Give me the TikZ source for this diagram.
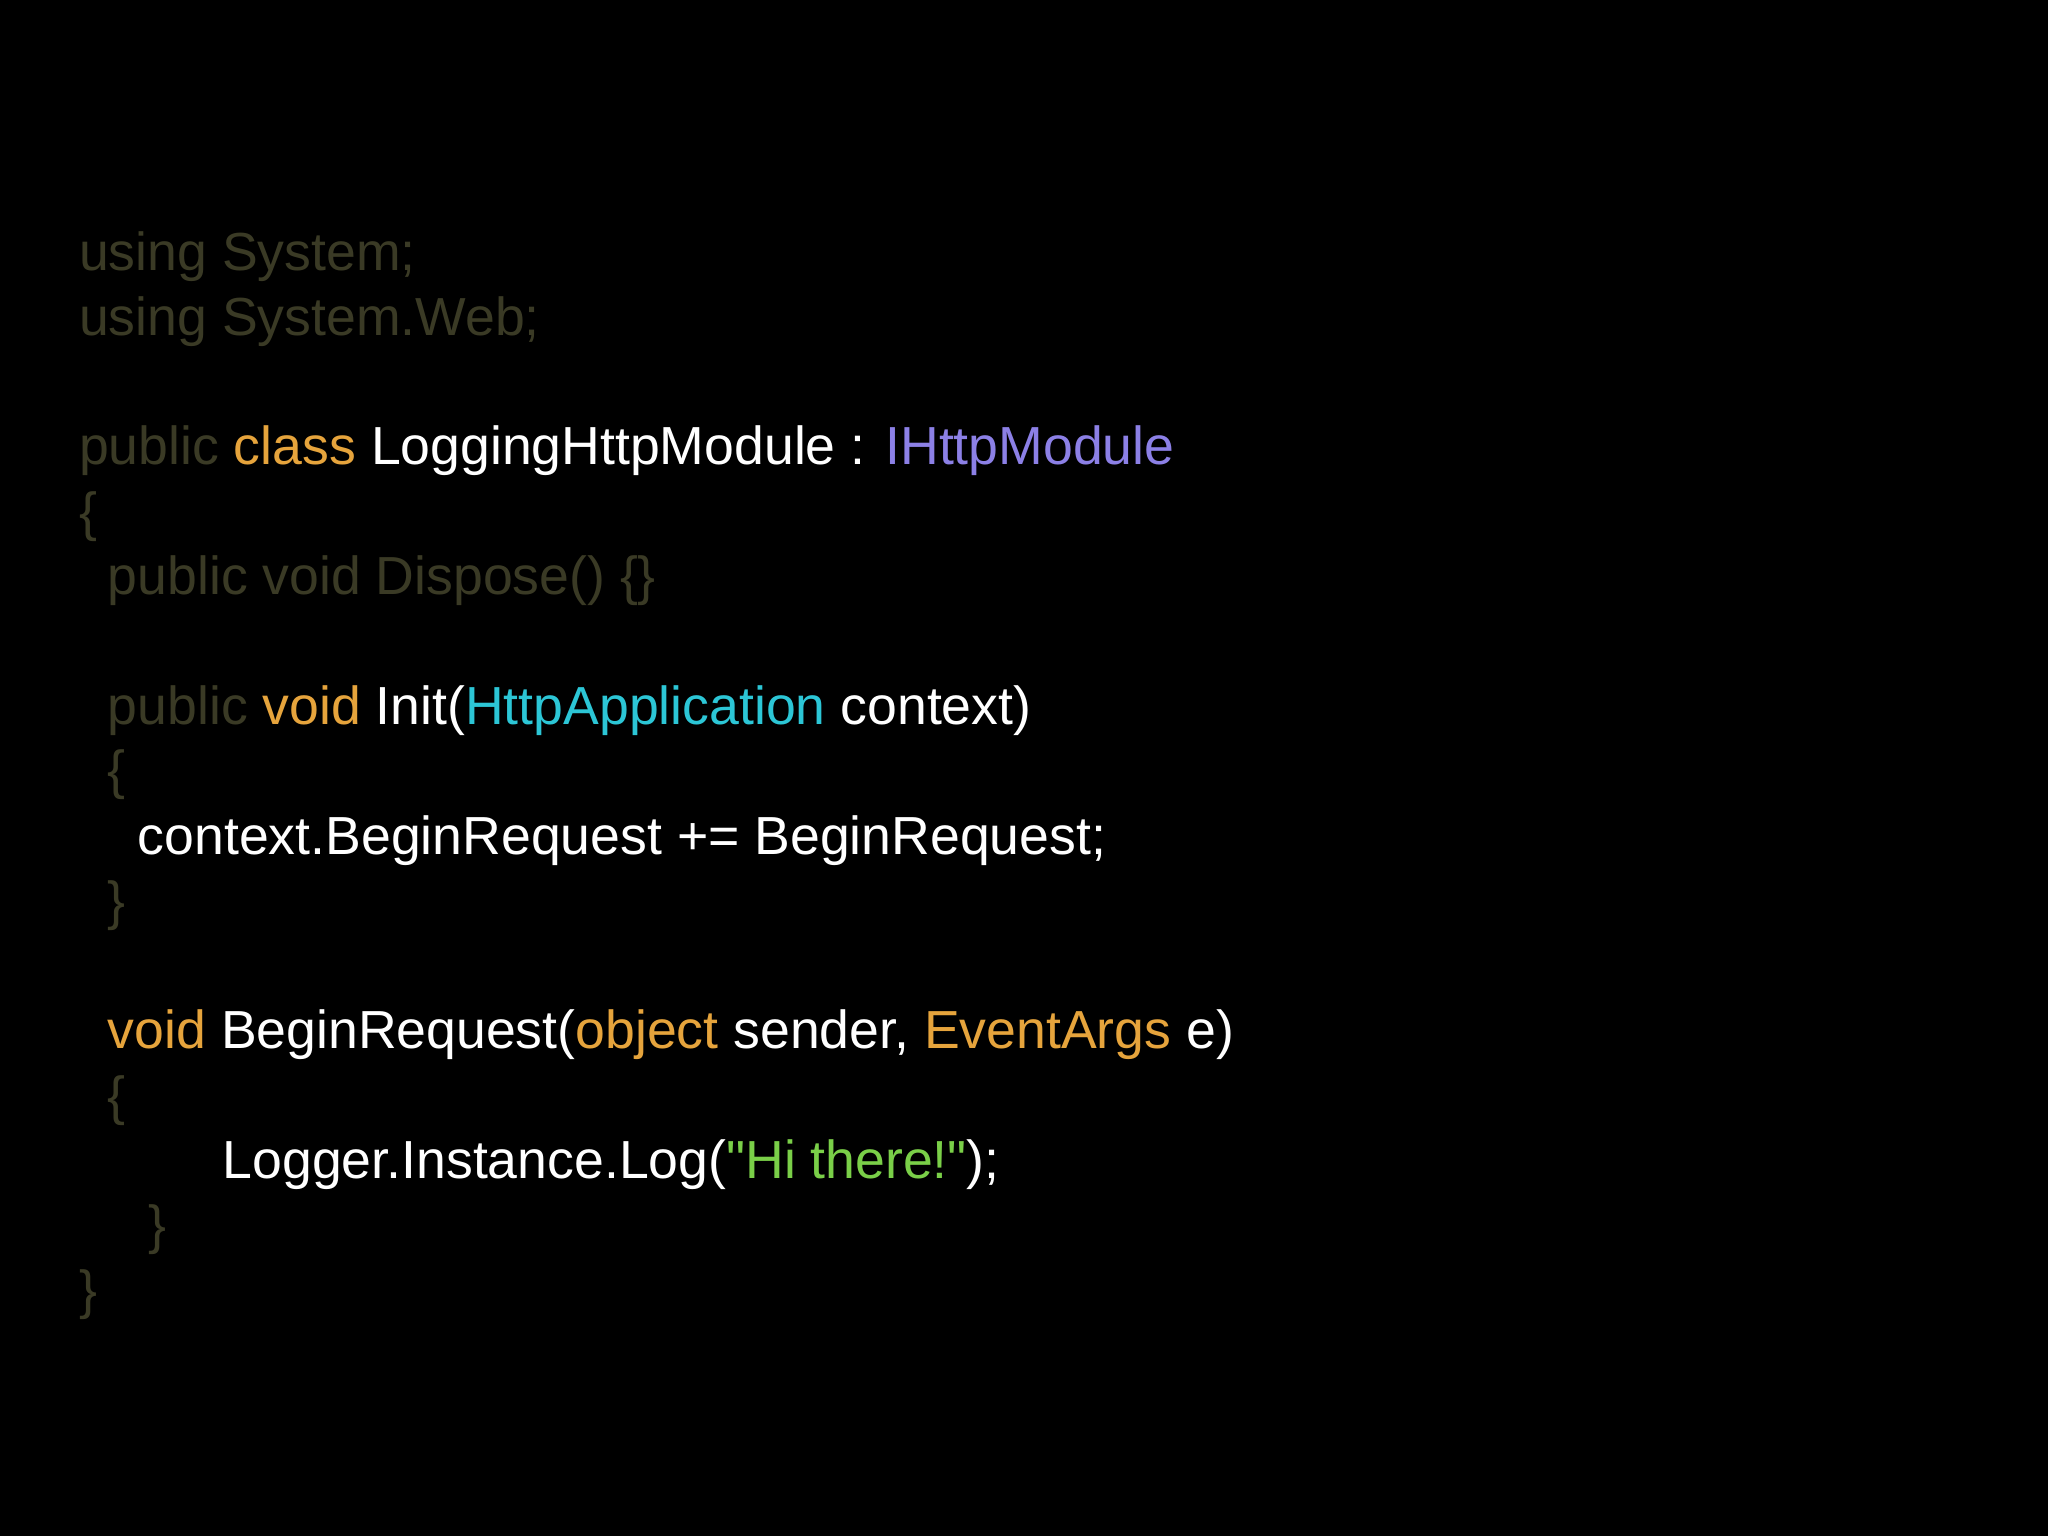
\documentclass[tikz,border=0pt]{standalone}
\usepackage{fontspec}
\setmainfont{Liberation Sans}
\newfontfamily\plainfont{Liberation Sans}
\newcommand{\sq}{{\plainfont\symbol{34}}}
\definecolor{dim}{HTML}{3A3A25}
\definecolor{kw}{HTML}{E6A43C}
\definecolor{iface}{HTML}{8C80E6}
\definecolor{typ}{HTML}{2CC6D6}
\definecolor{str}{HTML}{7ACF48}
\begin{document}
\begin{tikzpicture}[x=0.01306cm,y=-0.01306cm,
  code/.style={anchor=base west,inner sep=0pt,font=\fontsize{15.25pt}{18pt}\selectfont,text=white}]
\fill[black] (0,0) rectangle (1568,1176);
\useasboundingbox (0,0) rectangle (1568,1176);
\node[code] (l1) at (60,207) {\color{dim}using System;};
\node[code] (l2) at (60,257) {\color{dim}using System.Web;};
\node[code] (l4) at (60,356) {\color{dim}public \color{kw}class \color{white}LoggingHttpModule : \color{iface}IHttpModule};
\node[code] (l5) at (60,406) {\color{dim}\{};
\node[code] (l6) at (82,455) {\color{dim}public void Dispose() \{\}};
\node[code] (l8) at (82,555) {\color{dim}public \color{kw}void \color{white}Init(\color{typ}HttpApplication \color{white}context)};
\node[code] (l9) at (82,604) {\color{dim}\{};
\node[code] (l10) at (105,654) {context.BeginRequest += BeginRequest;};
\node[code] (l11) at (82,704) {\color{dim}\}};
\node[code] (l13) at (82,803) {\color{kw}void \color{white}BeginRequest(\color{kw}object \color{white}sender, \color{kw}EventArgs \color{white}e)};
\node[code] (l14) at (82,853) {\color{dim}\{};
\node[code] (l15) at (170,902) {Logger.Instance.Log(\color{str}\sq Hi there!\sq\color{white});};
\node[code] (l16) at (113,952) {\color{dim}\}};
\node[code] (l17) at (60,1002) {\color{dim}\}};
\end{tikzpicture}
\end{document}
